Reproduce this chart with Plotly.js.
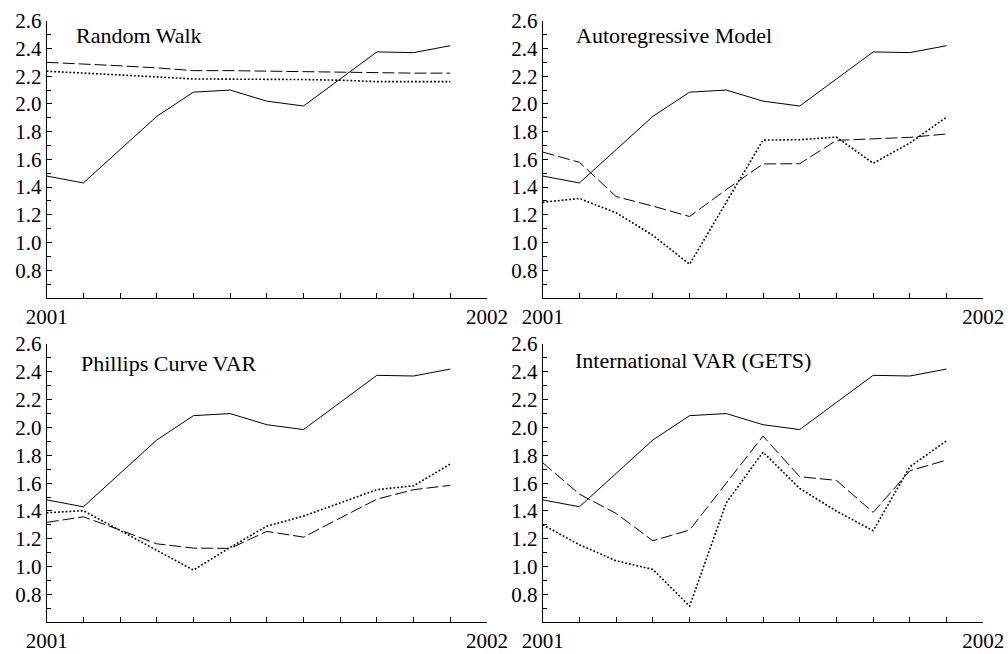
<!DOCTYPE html>
<html>
<head>
<meta charset="utf-8">
<script src="https://cdn.plot.ly/plotly-3.0.1.min.js"></script>
<style>html,body{margin:0;padding:0;background:#fff;}#chart{width:1008px;height:654px;}</style>
</head>
<body>
<div id="chart"></div>
<script>
// Months (0 = Jan 2001 ... 11 = Dec 2001)
var months = [0,1,2,3,4,5,6,7,8,9,10,11];
var panelTitles = ["Random Walk", "Autoregressive Model", "Phillips Curve VAR", "International VAR (GETS)"];
var xTickVals = [0,1,2,3,4,5,6,7,8,9,10,11,12];
var xTickText = ["2001","","","","","","","","","","","","2002"];
var yTickVals = [0.8,1.0,1.2,1.4,1.6,1.8,2.0,2.2,2.4,2.6];
var yTickText = ["0.8","1.0","1.2","1.4","1.6","1.8","2.0","2.2","2.4","2.6"];

// Actual inflation (solid, same in all panels)
var actual = [1.48,1.43,1.67,1.91,2.085,2.10,2.02,1.985,2.18,2.375,2.37,2.42];

// Random Walk
var rwDashed = [2.30,2.29,2.275,2.26,2.24,2.24,2.236,2.233,2.23,2.222,2.222,2.222];
var rwDotted = [2.236,2.224,2.207,2.195,2.18,2.18,2.178,2.176,2.171,2.161,2.161,2.161];

// Autoregressive Model
var arDashed = [1.653,1.579,1.332,1.263,1.188,1.382,1.567,1.569,1.737,1.747,1.759,1.783];
var arDotted = [1.291,1.318,1.215,1.052,0.843,1.29,1.739,1.742,1.761,1.572,1.718,1.905];

// Phillips Curve VAR
var pcDashed = [1.318,1.358,1.263,1.164,1.133,1.131,1.253,1.212,1.349,1.485,1.553,1.584];
var pcDotted = [1.387,1.402,1.26,1.116,0.975,1.138,1.291,1.363,1.459,1.553,1.581,1.737];

// International VAR (GETS)
var ivDashed = [1.747,1.521,1.382,1.186,1.263,1.598,1.938,1.646,1.620,1.390,1.689,1.766];
var ivDotted = [1.301,1.157,1.042,0.980,0.716,1.459,1.823,1.562,1.399,1.258,1.718,1.905];

var dashedSeries = [rwDashed, arDashed, pcDashed, ivDashed];
var dottedSeries = [rwDotted, arDotted, pcDotted, ivDotted];

var FONT = '"Liberation Serif", "Times New Roman", serif';
var traces = [];
var axisIds = [["x","y"],["x2","y2"],["x3","y3"],["x4","y4"]];
for (var i = 0; i < 4; i++) {
  var xa = axisIds[i][0], ya = axisIds[i][1];
  traces.push({x: months, y: actual, xaxis: xa, yaxis: ya, mode: "lines", line: {color: "#000", width: 1}, hoverinfo: "skip"});
  traces.push({x: months, y: dashedSeries[i], xaxis: xa, yaxis: ya, mode: "lines", line: {color: "#000", width: 1, dash: "12px,4px"}, hoverinfo: "skip"});
  traces.push({x: months, y: dottedSeries[i], xaxis: xa, yaxis: ya, mode: "lines", line: {color: "#000", width: 1.6, dash: "1.8px,2px"}, hoverinfo: "skip"});
}

var xDomL = [0.0463, 0.4831], xDomR = [0.5384, 0.9755];
var yDomT = [0.5443, 0.9683], yDomB = [0.0485, 0.4740];

function xAxis(dom, anchor) {
  return {domain: dom, anchor: anchor, range: [0, 12], tickmode: "array", tickvals: xTickVals, ticktext: xTickText,
    ticks: "inside", ticklen: 5, tickcolor: "#000", tickwidth: 1, showline: true, linecolor: "#000", linewidth: 1,
    showgrid: false, zeroline: false, tickfont: {family: FONT, size: 21, color: "#000"}, ticklabelstandoff: 0, fixedrange: true};
}
function yAxis(dom, anchor) {
  return {domain: dom, anchor: anchor, range: [0.6, 2.6], tickmode: "array", tickvals: yTickVals, ticktext: yTickText,
    ticks: "inside", ticklen: 5, tickcolor: "#000", tickwidth: 1, showline: true, linecolor: "#000", linewidth: 1,
    minor: {tickmode: "linear", tick0: 0.6, dtick: 0.1, ticks: "inside", ticklen: 4, tickcolor: "#000", tickwidth: 1, showgrid: false},
    showgrid: false, zeroline: false, tickfont: {family: FONT, size: 21, color: "#000"}, ticklabelstandoff: 0, fixedrange: true};
}

var annotations = [];
var titleX = [0.062, 0.071, 0.073, 0.068];
var titleY = [0.945, 0.948, 0.93, 0.942];
for (var j = 0; j < 4; j++) {
  annotations.push({text: panelTitles[j], xref: axisIds[j][0] + " domain", yref: axisIds[j][1] + " domain",
    x: titleX[j], y: titleY[j], xanchor: "left", yanchor: "middle", showarrow: false,
    font: {family: FONT, size: 22, color: "#000"}});
}

var layout = {
  width: 1008, height: 654, margin: {l: 0, r: 0, t: 0, b: 0},
  paper_bgcolor: "#fff", plot_bgcolor: "#fff", showlegend: false,
  font: {family: FONT, color: "#000"},
  xaxis: xAxis(xDomL, "y"), yaxis: yAxis(yDomT, "x"),
  xaxis2: xAxis(xDomR, "y2"), yaxis2: yAxis(yDomT, "x2"),
  xaxis3: xAxis(xDomL, "y3"), yaxis3: yAxis(yDomB, "x3"),
  xaxis4: xAxis(xDomR, "y4"), yaxis4: yAxis(yDomB, "x4"),
  annotations: annotations
};

Plotly.newPlot("chart", traces, layout, {displayModeBar: false, staticPlot: true});
</script>
</body>
</html>
